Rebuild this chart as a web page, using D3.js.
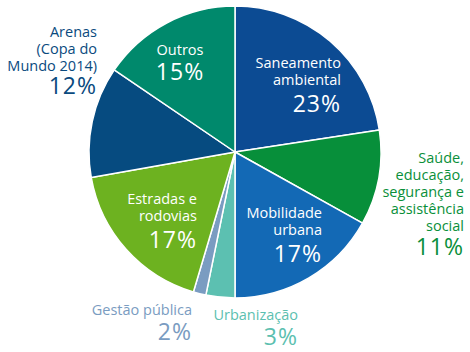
<!DOCTYPE html>
<html>
<head>
<meta charset="utf-8">
<script src="https://cdn.jsdelivr.net/npm/d3@7"></script>
<style>
  body { margin: 0; background: #fff; }
  svg text { font-family: "Open Sans", sans-serif; }
</style>
</head>
<body>
<div id="chart"></div>
<script>
// slices, clockwise from 12 o'clock
let categories = ['Saneamento ambiental', 'Saúde, educação, segurança e assistência social', 'Mobilidade urbana', 'Urbanização', 'Gestão pública', 'Estradas e rodovias', 'Arenas (Copa do Mundo 2014)', 'Outros']
// slice sizes (labels are rounded)
let values = [22.6, 10.5, 16.9, 3.2, 1.4, 17.6, 12.3, 15.5]
let labelLines = [
	['Saneamento', 'ambiental'],
	['Saúde,', 'educação,', 'segurança e', 'assistência', 'social'],
	['Mobilidade', 'urbana'],
	['Urbanização'],
	['Gestão pública'],
	['Estradas e', 'rodovias'],
	['Arenas', '(Copa do', 'Mundo 2014)'],
	['Outros']
]
let pctLabels = ['23%', '11%', '17%', '3%', '2%', '17%', '12%', '15%']

let sliceColors = ['#0c4b93', '#078f3a', '#1369b5', '#5cc0b1', '#7a9cc1', '#6db220', '#064b80', '#00896c']
let textColors = ['#fff', '#0a8f3a', '#fff', '#5cbfb0', '#7a9cc1', '#fff', '#0a4a7e', '#fff']

let labelPos = [
	{x: 341, y: 68, anchor: 'end', pctY: 112},
	{x: 464, y: 163, anchor: 'end', pctY: 255},
	{x: 322, y: 218, anchor: 'end', pctY: 262},
	{x: 298, y: 320, anchor: 'end', pctY: 345},
	{x: 192, y: 315, anchor: 'end', pctY: 340},
	{x: 197, y: 204, anchor: 'end', pctY: 248},
	{x: 97, y: 37, anchor: 'end', pctY: 94},
	{x: 180, y: 55, anchor: 'middle', pctY: 80}
]

let width = 470
let height = 352
let cx = 235
let cy = 152
let radius = 146

const svg = d3.select('#chart')
	.append('svg')
	.attr('width', width)
	.attr('height', height)

let pie = d3.pie().sort(null).value(d => d)
let arc = d3.arc().innerRadius(0).outerRadius(radius)

let arcs = pie(values)

let g = svg.append('g').attr('transform', `translate(${cx},${cy})`)

g.selectAll('.slice')
	.data(arcs)
	.enter()
	.append('path')
	.attr('d', arc)
	.attr('fill', (d, i) => sliceColors[i])
	.attr('stroke', 'white')
	.attr('stroke-width', 1.5)
	.attr('stroke-linejoin', 'round')

labelLines.forEach(function(lines, i){
	let p = labelPos[i]
	lines.forEach(function(line, j){
		svg.append('text')
			.attr('x', p.x)
			.attr('y', p.y + j * 17)
			.attr('text-anchor', p.anchor)
			.attr('fill', textColors[i])
			.attr('font-size', 14.5)
			.text(line)
	})
	svg.append('text')
		.attr('x', p.x)
		.attr('y', p.pctY)
		.attr('text-anchor', p.anchor)
		.attr('fill', textColors[i])
		.attr('font-size', 23)
		.attr('letter-spacing', 1)
		.text(pctLabels[i])
})
</script>
</body>
</html>
